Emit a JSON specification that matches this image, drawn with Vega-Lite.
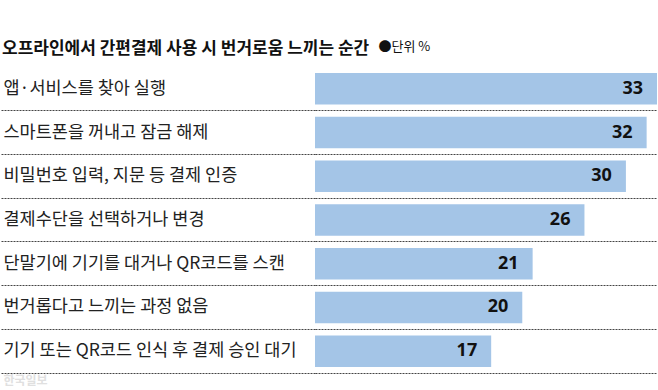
{
  "$schema": "https://vega.github.io/schema/vega-lite/v6.json",
  "autosize": {"type": "none"},
  "padding": {"left": 315, "top": 67, "right": 1, "bottom": 17},
  "width": 342,
  "height": 306,
  "background": "white",
  "title": {
    "text": "오프라인에서 간편결제 사용 시 번거로움 느끼는 순간",
    "anchor": "start",
    "frame": "group",
    "dx": -313,
    "dy": 26,
    "offset": 8,
    "font": "Noto Sans CJK KR",
    "fontSize": 17,
    "fontWeight": "bold",
    "color": "#111111"
  },
  "data": {
    "values": [
      {"item": "앱·서비스를 찾아 실행", "v": 33},
      {"item": "스마트폰을 꺼내고 잠금 해제", "v": 32},
      {"item": "비밀번호 입력, 지문 등 결제 인증", "v": 30},
      {"item": "결제수단을 선택하거나 변경", "v": 26},
      {"item": "단말기에 기기를 대거나 QR코드를 스캔", "v": 21},
      {"item": "번거롭다고 느끼는 과정 없음", "v": 20},
      {"item": "기기 또는 QR코드 인식 후 결제 승인 대기", "v": 17}
    ]
  },
  "encoding": {
    "y": {
      "field": "item",
      "type": "nominal",
      "sort": null,
      "scale": {"paddingInner": 0, "paddingOuter": 0},
      "axis": {
        "title": "한국일보",
        "titleAngle": 0,
        "titleX": -312,
        "titleY": 313,
        "titleAlign": "left",
        "titleBaseline": "middle",
        "titleFont": "Noto Sans CJK KR",
        "titleFontSize": 12,
        "titleFontWeight": "bold",
        "titleColor": "#e0e0e0",
        "domain": false,
        "ticks": true,
        "tickSize": 315,
        "tickDash": [2, 1],
        "tickColor": "#444444",
        "tickWidth": 1,
        "bandPosition": 1,
        "grid": true,
        "gridDash": [2, 1],
        "gridColor": "#444444",
        "gridWidth": 1,
        "labelAlign": "left",
        "labelBaseline": "middle",
        "labelPadding": -3,
        "labelLimit": 400,
        "labelFont": "Noto Sans CJK KR",
        "labelFontSize": 17.5,
        "labelColor": "#222222"
      }
    },
    "x": {
      "field": "v",
      "type": "quantitative",
      "scale": {"domain": [0, 33], "nice": false, "zero": true},
      "axis": {
        "orient": "top",
        "title": "●단위 %",
        "titleX": 63,
        "titleY": -21,
        "titleAlign": "left",
        "titleBaseline": "middle",
        "titleFont": "Noto Sans CJK KR",
        "titleFontSize": 13,
        "titleFontWeight": "normal",
        "titleColor": "#111111",
        "labels": false,
        "ticks": false,
        "domain": false,
        "grid": false
      }
    }
  },
  "layer": [
    {
      "mark": {"type": "bar", "color": "#a4c5e7", "height": {"band": 0.72}}
    },
    {
      "mark": {
        "type": "text",
        "align": "right",
        "baseline": "middle",
        "dx": -14,
        "font": "Noto Sans",
        "fontSize": 18,
        "fontWeight": "bold",
        "color": "#111111"
      },
      "encoding": {"text": {"field": "v", "type": "quantitative"}}
    }
  ],
  "config": {"view": {"stroke": null}}
}
